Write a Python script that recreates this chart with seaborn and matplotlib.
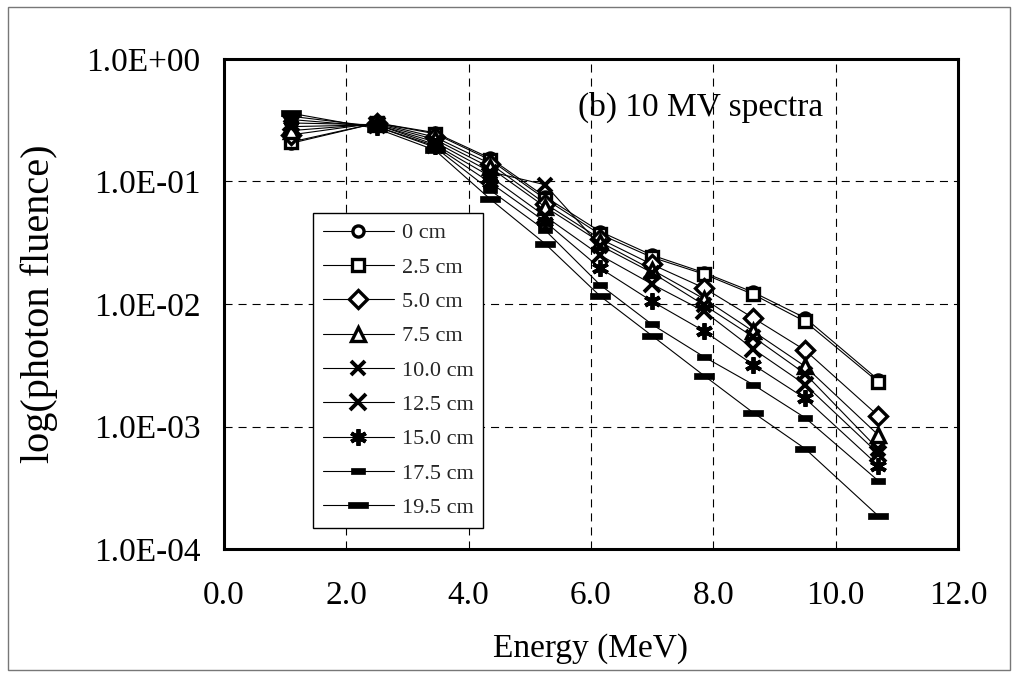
import numpy as np
import pandas as pd
import matplotlib
matplotlib.use("Agg")
import matplotlib.pyplot as plt
from matplotlib.patches import Rectangle
from matplotlib.ticker import FixedLocator, FuncFormatter
import seaborn as sns

# ---- data ----
energy = [1.1, 2.5, 3.45, 4.35, 5.25, 6.15, 7.0, 7.85, 8.65, 9.5, 10.7]
depth_labels = ["0 cm", "2.5 cm", "5.0 cm", "7.5 cm", "10.0 cm",
                "12.5 cm", "15.0 cm", "17.5 cm", "19.5 cm"]
d00_0 = [0.205, 0.30, 0.25, 0.155, 0.075, 0.039, 0.025, 0.018, 0.0125, 0.0077, 0.0024]
d02_5 = [0.21, 0.30, 0.245, 0.150, 0.072, 0.037, 0.024, 0.0175, 0.012, 0.0072, 0.0023]
d05_0 = [0.24, 0.30, 0.23, 0.140, 0.066, 0.034, 0.021, 0.0135, 0.0077, 0.0042, 0.00122]
d07_5 = [0.26, 0.295, 0.22, 0.130, 0.062, 0.032, 0.019, 0.011, 0.0060, 0.0031, 0.00085]
d10_0 = [0.28, 0.29, 0.21, 0.120, 0.094, 0.030, 0.018, 0.0098, 0.0054, 0.0027, 0.00065]
d12_5 = [0.30, 0.29, 0.20, 0.110, 0.052, 0.025, 0.0145, 0.0087, 0.0043, 0.0022, 0.00060]
d15_0 = [0.32, 0.28, 0.195, 0.098, 0.047, 0.0196, 0.0105, 0.0060, 0.0032, 0.0017, 0.00048]
d17_5 = [0.34, 0.28, 0.19, 0.085, 0.040, 0.0143, 0.0068, 0.0037, 0.0022, 0.00118, 0.00036]
d19_5 = [0.36, 0.27, 0.18, 0.072, 0.031, 0.0116, 0.0055, 0.0026, 0.0013, 0.00066, 0.000186]
series = [d00_0, d02_5, d05_0, d07_5, d10_0, d12_5, d15_0, d17_5, d19_5]

x_ticks = [0, 2, 4, 6, 8, 10, 12]
y_ticks = [1e-4, 1e-3, 1e-2, 1e-1, 1e0]
y_tick_labels = ["1.0E-04", "1.0E-03", "1.0E-02", "1.0E-01", "1.0E+00"]

# ---- style ----
sns.set_theme(style="white")
plt.rcParams["font.family"] = ["Liberation Serif", "DejaVu Serif"]
plt.rcParams["lines.scale_dashes"] = False

short_bar = [(-1, -0.38), (1, -0.38), (1, 0.38), (-1, 0.38), (-1, -0.38)]
long_bar = [(-1, -0.3), (1, -0.3), (1, 0.3), (-1, 0.3), (-1, -0.3)]
marker_styles = [
    dict(marker="o", markersize=8, markerfacecolor="white", markeredgewidth=2.4),
    dict(marker="s", markersize=9, markerfacecolor="white", markeredgewidth=2.4),
    dict(marker="D", markersize=9, markerfacecolor="white", markeredgewidth=2.4),
    dict(marker="^", markersize=10, markerfacecolor="white", markeredgewidth=2.4),
    dict(marker="x", markersize=10, markeredgewidth=2.8),
    dict(marker="x", markersize=11, markeredgewidth=2.8),
    dict(marker=(6, 2, 0), markersize=12, markeredgewidth=2.8),
    dict(marker=short_bar, markersize=10, markerfacecolor="black", markeredgewidth=0.5),
    dict(marker=long_bar, markersize=15, markerfacecolor="black", markeredgewidth=0.5),
]

fig = plt.figure(figsize=(10.18, 6.77), dpi=100)
ax = fig.add_axes([0.220, 0.189, 0.721, 0.724])

for lab, vals, ms in zip(depth_labels, series, marker_styles):
    df = pd.DataFrame({"energy": energy, "fluence": vals})
    sns.lineplot(data=df, x="energy", y="fluence", ax=ax, color="black",
                 linewidth=0.8, markeredgecolor="black", label=lab, zorder=3,
                 **ms)

ax.set_yscale("log")
ax.set_xlim(0, 12)
ax.set_ylim(1e-4, 1)
ax.xaxis.set_major_locator(FixedLocator(x_ticks))
ax.xaxis.set_major_formatter(FuncFormatter(lambda v, p: f"{v:.1f}"))
ax.yaxis.set_major_locator(FixedLocator(y_ticks))
ax.set_yticklabels(y_tick_labels)
ax.yaxis.set_minor_locator(FixedLocator([]))
ax.tick_params(axis="both", length=0, labelsize=24, colors="black")
ax.tick_params(axis="y", pad=17)
ax.tick_params(axis="x", pad=23)

ax.grid(True, which="major", color="black", linewidth=0.8,
        linestyle=(0, (5.8, 4.3)))
ax.set_axisbelow(True)
for sp in ax.spines.values():
    sp.set_color("black")
    sp.set_linewidth(2.2)

ax.set_xlabel("Energy (MeV)", fontsize=24, color="black")
ax.set_ylabel("log(photon fluence)", fontsize=29, color="black")
ax.xaxis.set_label_coords(0.5, -0.172)
ax.yaxis.set_label_coords(-0.226, 0.5)

ax.text(0.482, 0.902, "(b) 10 MV spectra", transform=ax.transAxes,
        fontsize=24, ha="left", va="center", color="black")

leg = ax.legend(loc="upper left", bbox_to_anchor=(0.121, 0.686),
                fontsize=16, handlelength=3.2, labelspacing=0.62,
                frameon=True, fancybox=False, framealpha=1,
                borderpad=0.45, handletextpad=0.35, borderaxespad=0)
leg.get_frame().set_edgecolor("black")
leg.get_frame().set_linewidth(1.0)

fig.patches.append(Rectangle((8 / 1018, 7 / 677), 1002 / 1018, 663 / 677,
                             transform=fig.transFigure, fill=False,
                             edgecolor="#777777", linewidth=1.0))

fig.savefig("out.png", dpi=100)
